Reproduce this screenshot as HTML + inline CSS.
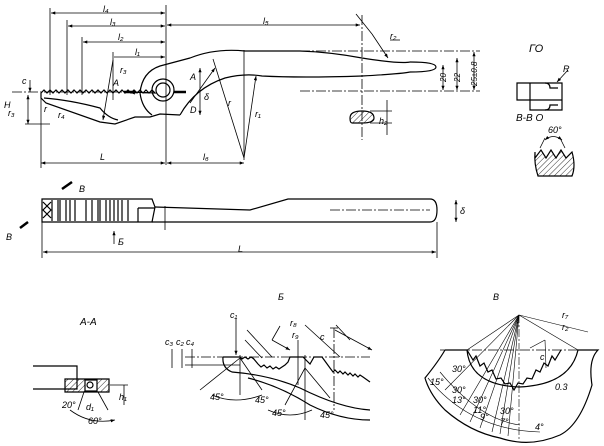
<!DOCTYPE html>
<html><head><meta charset="utf-8"><style>
html,body{margin:0;padding:0;background:#fff;width:604px;height:446px;overflow:hidden}
svg{display:block}
text{font-family:"Liberation Sans",sans-serif;font-style:italic;fill:#000}
</style></head><body>
<svg width="604" height="446" viewBox="0 0 604 446" xmlns="http://www.w3.org/2000/svg">
<defs>
<marker id="a" viewBox="0 0 8 6" refX="8" refY="3" markerWidth="6" markerHeight="4" orient="auto-start-reverse"><path d="M0,0L8,3L0,6z"/></marker>
<pattern id="h" width="4" height="4" patternUnits="userSpaceOnUse" patternTransform="rotate(45)"><line x1="0" y1="0" x2="0" y2="4" stroke="#000" stroke-width="0.8"/></pattern>
</defs>
<g stroke="#000" fill="none" stroke-width="0.8">
<!-- top dims -->
<line x1="50" y1="8" x2="50" y2="95"/><line x1="67" y1="20" x2="67" y2="95"/><line x1="82" y1="37" x2="82" y2="95"/><line x1="113" y1="52" x2="113" y2="100"/>
<line x1="166" y1="5" x2="166" y2="165"/>
<line x1="51" y1="13" x2="165" y2="13" marker-start="url(#a)" marker-end="url(#a)"/>
<line x1="68" y1="26" x2="165" y2="26" marker-start="url(#a)" marker-end="url(#a)"/>
<line x1="83" y1="42" x2="165" y2="42" marker-start="url(#a)" marker-end="url(#a)"/>
<line x1="114" y1="57" x2="165" y2="57" marker-end="url(#a)"/>
<line x1="167" y1="25" x2="360" y2="25" marker-start="url(#a)" marker-end="url(#a)"/>
<line x1="41" y1="163" x2="165" y2="163" marker-start="url(#a)" marker-end="url(#a)"/>
<line x1="167" y1="163" x2="244" y2="163" marker-start="url(#a)" marker-end="url(#a)"/>
<line x1="41" y1="95" x2="41" y2="168"/>
<line x1="12" y1="92" x2="140" y2="92" stroke-dasharray="10,2,2,2"/>
<line x1="300" y1="51" x2="480" y2="51" stroke-dasharray="10,2,2,2"/>
<line x1="300" y1="91" x2="480" y2="91" stroke-dasharray="10,2,2,2"/>
<line x1="362" y1="15" x2="362" y2="140" stroke-dasharray="10,2,2,2"/>
<g stroke-width="1.2">
<path d="M41,93 L41,98 L46,103 L100,122 L115,124 L135,117 L150,117 L160,114 L180,115"/>
<path d="M41,93 l3,-3 3,3 3,-3 3,3 3,-3 3,3 3,-3 3,3 3,-3 3,3 3,-3 3,3 3,-3 3,3 3,-3 3,3 3,-3 3,3 3,-3 3,3 3,-3 3,3 3,-3 3,3 3,-3 3,3 3,-3 3,3 3,-3 3,3 3,-3 3,3 3,-3 3,3 3,-3 3,3 3,-3 3,3 L130,92 L135,94"/>
<path d="M44,98 Q70,100 100,108 Q108,118 118,120"/>
<path d="M140,93 Q142,72 160,66 Q175,62 190,58 Q215,48 245,51 L300,51 Q330,52 362,58 Q400,64 410,62"/>
<path d="M180,115 Q195,88 225,78 Q245,73 262,76 Q300,78 362,76 Q400,74 410,72"/>
<path d="M410,62 Q436,62 436,67 Q436,72 410,72"/>
<path d="M140,93 Q142,108 152,115"/>
<circle cx="163" cy="90" r="11"/><circle cx="163" cy="90" r="7"/>
<path d="M124,92h12M174,92h12" stroke-width="2.5"/>
<path d="M350,118 Q350,111 362,111 Q374,111 374,118 Q374,123 362,123 L352,123 Q350,123 350,118z" fill="url(#h)"/>
</g>
<line x1="113" y1="60" x2="103" y2="120" marker-end="url(#a)"/>
<line x1="28" y1="95" x2="28" y2="124" marker-start="url(#a)" marker-end="url(#a)"/>
<line x1="25" y1="124" x2="50" y2="124"/>
<line x1="30" y1="80" x2="30" y2="92" marker-end="url(#a)"/>
<line x1="190" y1="103" x2="215" y2="68" marker-end="url(#a)"/>
<line x1="200" y1="68" x2="200" y2="115" marker-start="url(#a)" marker-end="url(#a)"/>
<line x1="244" y1="50" x2="244" y2="160"/>
<line x1="244" y1="158" x2="213" y2="59"/><line x1="244" y1="158" x2="256" y2="76" marker-end="url(#a)"/>
<line x1="356" y1="14" x2="372" y2="34"/><line x1="372" y1="34" x2="388" y2="58" marker-end="url(#a)"/>
<line x1="390" y1="40" x2="400" y2="40"/>
<line x1="443" y1="65" x2="443" y2="90" marker-start="url(#a)" marker-end="url(#a)"/>
<line x1="457" y1="58" x2="457" y2="90" marker-start="url(#a)" marker-end="url(#a)"/>
<line x1="474" y1="52" x2="474" y2="90" marker-start="url(#a)" marker-end="url(#a)"/>
<line x1="387" y1="100" x2="387" y2="135"/><line x1="370" y1="111" x2="392" y2="111"/><line x1="370" y1="123" x2="392" y2="123"/>
<!-- side view -->
<g stroke-width="1.2">
<path d="M42,199 L152,199 L155,207 L152,222 L42,222 Z"/>
<path d="M155,207 L250,210 L288,199 L430,199 Q437,199 437,210 Q437,222 430,222 L152,222"/>
<path d="M138,208 L155,208 M138,208 L138,222"/>
<path d="M52,200v21M58,200v21M60,200v21M66,200v21M70,200v21M75,200v21M86,200v21M92,200v21M98,200v21M100,200v21M106,200v21M110,200v21M114,200v21M118,200v21M122,200v21M128,200v21"/>
<path d="M43,202l8,8-8,8M51,202l-8,8 8,8"/>
<path d="M62,189l10,-7" stroke-width="2.5"/><path d="M20,228l8,-6" stroke-width="2.5"/>
</g>
<line x1="165" y1="206" x2="165" y2="230"/>
<line x1="330" y1="210" x2="430" y2="210" stroke-dasharray="10,2,2,2"/>
<line x1="456" y1="200" x2="456" y2="222" marker-start="url(#a)" marker-end="url(#a)"/>
<line x1="437" y1="222" x2="437" y2="258"/>
<line x1="43" y1="252" x2="436" y2="252" marker-start="url(#a)" marker-end="url(#a)"/>
<line x1="42" y1="222" x2="42" y2="258"/>
<line x1="114" y1="244" x2="114" y2="231" marker-end="url(#a)"/>
<!-- right GO -->
<g stroke-width="1.2">
<path d="M517,83 H562 V100 H517 Z M530,83 V110 H562 V100"/>
<path d="M545,83 q5,0 5,5 h8 M545,110 q5,0 5,-5 h8"/>
<path d="M535,158 l6,-8 5,8 5,-8 5,8 5,-8 5,8 6,-6 q4,14 0,24 h-34 q-4,-12 -3,-24z" fill="url(#h)"/>
</g>
<line x1="540" y1="148" x2="545" y2="138"/><line x1="565" y1="148" x2="560" y2="138"/>
<path d="M545,140 Q553,133 562,140" marker-start="url(#a)" marker-end="url(#a)"/>
<line x1="568" y1="70" x2="557" y2="82" marker-end="url(#a)"/>
<!-- A-A -->
<g stroke-width="1.2">
<path d="M33,366 H77 V389 H33"/>
<path d="M65,379 H109 V392 H65 Z" fill="url(#h)"/>
<rect x="85" y="380" width="12" height="11" fill="#fff"/>
<circle cx="90" cy="385" r="3"/>
</g>
<line x1="84" y1="392" x2="78" y2="410"/><line x1="98" y1="392" x2="108" y2="410"/>
<line x1="124" y1="385" x2="124" y2="405"/><line x1="110" y1="385" x2="128" y2="385"/>
<path d="M70,410 Q90,425 115,420" marker-end="url(#a)"/>
<!-- Б view -->
<line x1="185" y1="357" x2="370" y2="357" stroke-dasharray="10,2,2,2"/>
<line x1="185" y1="365" x2="240" y2="365"/>
<g stroke-width="1.2">
<path d="M223,357 L240,357 l2,2 3,-2 3,2 3,-2 3,2"/>
<path d="M253,358 L258,364 l3,3 3,-2 3,3 3,-2 3,3 3,-2 3,2 3,-2 3,-2 3,-3 L290,357 L303,357 L310,364 L314,357 L322,357 L330,368 l3,4 2,-2 3,3 2,-2 3,3 2,-2 3,3 2,-2 3,3 2,-2 3,3 2,-2 3,2 L370,382"/>
<path d="M223,357 Q222,368 232,372 Q270,375 300,388 Q340,408 370,410"/>
<path d="M248,378 Q280,386 310,405 Q340,420 370,420"/>
</g>
<line x1="236" y1="318" x2="236" y2="355" marker-end="url(#a)"/><line x1="247" y1="330" x2="272" y2="357"/><line x1="245" y1="340" x2="262" y2="358"/>
<line x1="200" y1="390" x2="240" y2="358"/><line x1="240" y1="358" x2="262" y2="390"/>
<line x1="240" y1="355" x2="240" y2="395"/>
<line x1="272" y1="340" x2="290" y2="350" marker-end="url(#a)"/><line x1="272" y1="340" x2="280" y2="326"/>
<line x1="298" y1="340" x2="298" y2="385"/>
<line x1="305" y1="325" x2="340" y2="357"/>
<line x1="285" y1="405" x2="305" y2="368"/><line x1="305" y1="368" x2="330" y2="398"/>
<line x1="305" y1="355" x2="305" y2="420"/>
<line x1="336" y1="325" x2="350" y2="340"/>
<line x1="330" y1="328" x2="338" y2="328"/><line x1="335" y1="330" x2="372" y2="350" marker-end="url(#a)"/>
<line x1="334" y1="328" x2="334" y2="410" stroke-dasharray="10,2,2,2"/>
<line x1="172" y1="349" x2="172" y2="368"/><line x1="182" y1="349" x2="182" y2="368"/><line x1="192" y1="349" x2="192" y2="368"/>
<path d="M212,395 Q235,405 262,395"/><path d="M268,410 Q290,420 312,410"/>
<!-- В fan -->
<line x1="440" y1="350" x2="600" y2="350" stroke-dasharray="10,2,2,2"/>
<g stroke-width="1.2">
<path d="M445,350 L467,350 Q470,385 519,387 Q570,385 578,350 L598,350 Q588,360 592,385 Q580,425 560,435 Q530,448 500,438 Q470,432 445,410 Q430,395 425,378 Q438,362 445,350"/>
<path d="M467,350 l6,10 3,-4 4,10 4,-3 4,9 4,-2 4,9 5,-1 4,6 5,-1 4,7 4,-7 5,1 4,-6 5,1 4,-9 4,2 4,-9 4,3 4,-10 3,4 6,-10"/>
</g>
<g stroke-width="0.6">
<line x1="519" y1="315" x2="467" y2="350"/><line x1="519" y1="315" x2="578" y2="350"/>
<line x1="519" y1="315" x2="445" y2="390"/><line x1="519" y1="315" x2="460" y2="415"/>
<line x1="519" y1="315" x2="470" y2="422"/><line x1="519" y1="315" x2="480" y2="428"/>
<line x1="519" y1="315" x2="492" y2="432"/><line x1="519" y1="315" x2="500" y2="434"/>
<line x1="519" y1="315" x2="508" y2="436"/><line x1="519" y1="315" x2="519" y2="440" stroke-dasharray="8,2,2,2"/>
<line x1="519" y1="315" x2="588" y2="332"/>
<line x1="545" y1="340" x2="546" y2="368"/><line x1="545" y1="340" x2="530" y2="348"/>
<path d="M428,378 Q470,430 540,432"/>
<path d="M440,372 Q480,420 520,425"/>
</g>
</g>
<g font-size="9">
<text x="103" y="12">l₄</text><text x="110" y="25">l₃</text><text x="118" y="40">l₂</text><text x="135" y="55">l₁</text>
<text x="263" y="24">l₅</text><text x="100" y="160">L</text><text x="203" y="160">l₆</text>
<text x="120" y="73">r₃</text><text x="113" y="86">A</text><text x="190" y="80">A</text>
<text x="22" y="84">c</text><text x="4" y="108">H</text><text x="8" y="116">r₃</text><text x="44" y="112">r</text><text x="58" y="118">r₄</text>
<text x="190" y="113">D</text><text x="204" y="100">δ</text><text x="228" y="106">r</text><text x="255" y="117">r₁</text><text x="390" y="39">r₂</text>
<text x="379" y="124">h₂</text>
<text x="529" y="52" font-size="11">ГО</text><text x="563" y="72">R</text><text x="516" y="121" font-size="10">В-В О</text><text x="548" y="133">60°</text>
<text x="79" y="192">В</text><text x="6" y="240">В</text><text x="118" y="245">Б</text><text x="238" y="252">L</text><text x="460" y="214">δ</text>
<text x="80" y="325" font-size="10">A-A</text><text x="278" y="300">Б</text><text x="493" y="300">В</text>
<text x="62" y="408">20°</text><text x="86" y="410">d₁</text><text x="88" y="424">60°</text><text x="119" y="400">h₁</text>
<text x="210" y="400">45°</text><text x="255" y="403">45°</text><text x="272" y="416">45°</text><text x="320" y="418">45°</text>
<text x="230" y="318">c₁</text><text x="165" y="345">c₃</text><text x="176" y="345">c₂</text><text x="186" y="345">c₄</text>
<text x="290" y="326">r₈</text><text x="292" y="338">r₉</text><text x="562" y="318">r₇</text><text x="562" y="330">r₂</text><text x="320" y="340">c</text>
<text x="540" y="360">c</text><text x="452" y="372">30°</text><text x="430" y="385">15°</text>
<text x="452" y="393">30°</text><text x="452" y="403">13°</text><text x="473" y="403">30°</text><text x="473" y="413">11°</text>
<text x="480" y="420">9°</text><text x="500" y="414">30°</text><text x="500" y="425">7°</text><text x="535" y="430">4°</text><text x="555" y="390">0.3</text>
</g>
<g font-size="8">
<text transform="translate(446,82) rotate(-90)">20</text>
<text transform="translate(460,82) rotate(-90)">22</text>
<text transform="translate(477,86) rotate(-90)">25±0.8</text>
</g>
</svg>
</body></html>
